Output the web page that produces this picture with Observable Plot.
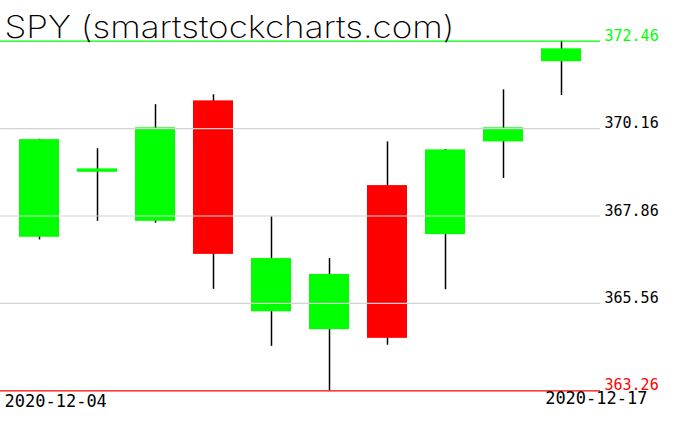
<!DOCTYPE html>
<html>
<head>
<meta charset="utf-8">
<script src="https://cdn.jsdelivr.net/npm/d3@7"></script>
<script src="https://cdn.jsdelivr.net/npm/@observablehq/plot@0.6"></script>
<style>
  html, body { margin: 0; padding: 0; background: #fff; }
  #chart svg { display: block; }
</style>
</head>
<body>
<div id="chart"></div>
<script>
const dates = ["2020-12-04","2020-12-07","2020-12-08","2020-12-09","2020-12-10","2020-12-11","2020-12-14","2020-12-15","2020-12-16","2020-12-17"];
const opens  = [367.30, 369.01, 367.72, 370.89, 365.34, 364.87, 368.66, 367.37, 369.81, 371.92];
const highs  = [369.88, 369.63, 370.79, 371.05, 367.84, 366.74, 369.81, 369.61, 371.18, 372.46];
const lows   = [367.23, 367.72, 367.67, 365.93, 364.43, 363.26, 364.46, 365.92, 368.85, 371.03];
const closes = [369.87, 369.10, 370.18, 366.85, 366.74, 366.32, 364.64, 369.60, 370.18, 372.26];
const gridValues = [370.16, 367.86, 365.56];
const maxValue = 372.46;
const minValue = 363.26;
const title = "SPY (smartstockcharts.com)";
const dateLabels = ["2020-12-04", "2020-12-17"];

const candles = dates.map((d, i) => ({date: d, open: opens[i], high: highs[i], low: lows[i], close: closes[i]}));

const labelFont = "DejaVu Sans Mono";
const chart = Plot.plot({
  width: 676,
  height: 431,
  marginTop: 0,
  marginLeft: 0,
  marginRight: 76,
  marginBottom: 41,
  style: {background: "#fff"},
  x: {type: "band", domain: dates, range: [19, 582], paddingInner: 0.31, paddingOuter: 0, axis: null},
  y: {domain: [minValue, maxValue], range: [390.3, 40.7], axis: null},
  marks: [
    Plot.ruleX(candles, {x: "date", y1: "low", y2: "high", stroke: "#000", strokeWidth: 1.5}),
    Plot.barY(candles, {x: "date", y1: "open", y2: "close", fill: d => d.close >= d.open ? "#00ff00" : "#ff0000"}),
    Plot.ruleY(gridValues, {stroke: "#d3d3d3", strokeWidth: 1.2}),
    Plot.ruleY([maxValue], {stroke: "#00ff00", strokeWidth: 1.2}),
    Plot.ruleY([minValue], {stroke: "#ff0000", strokeWidth: 1.2}),
    Plot.text(gridValues, {y: d => d, text: d => d.toFixed(2), frameAnchor: "right", textAnchor: "start", lineAnchor: "bottom", dx: 4, dy: -0.5, fill: "#000", fontSize: 15, fontFamily: labelFont}),
    Plot.text([maxValue], {y: d => d, text: d => d.toFixed(2), frameAnchor: "right", textAnchor: "start", lineAnchor: "bottom", dx: 4, dy: -0.5, fill: "#00ff00", fontSize: 15, fontFamily: labelFont}),
    Plot.text([minValue], {y: d => d, text: d => d.toFixed(2), frameAnchor: "right", textAnchor: "start", lineAnchor: "bottom", dx: 4, dy: -0.5, fill: "#ff0000", fontSize: 15, fontFamily: labelFont}),
    Plot.text([dateLabels[0]], {text: d => d, frameAnchor: "bottom-left", textAnchor: "start", lineAnchor: "bottom", dx: 4, dy: 16, fill: "#000", fontSize: 17, fontFamily: labelFont}),
    Plot.text([dateLabels[1]], {text: d => d, frameAnchor: "bottom-right", textAnchor: "end", lineAnchor: "bottom", dx: 47, dy: 13, fill: "#000", fontSize: 17, fontFamily: labelFont}),
    Plot.text([title], {text: d => d, frameAnchor: "top-left", textAnchor: "start", lineAnchor: "bottom", dx: 4, dy: 37.5, fill: "#000", fontSize: 31, fontWeight: 250, fontFamily: "Inter", className: "title-text"})
  ]
});
document.getElementById("chart").appendChild(chart);
const t = chart.querySelector(".title-text text");
if (t) { t.setAttribute("textLength", "450"); t.setAttribute("lengthAdjust", "spacingAndGlyphs"); }
</script>
</body>
</html>
